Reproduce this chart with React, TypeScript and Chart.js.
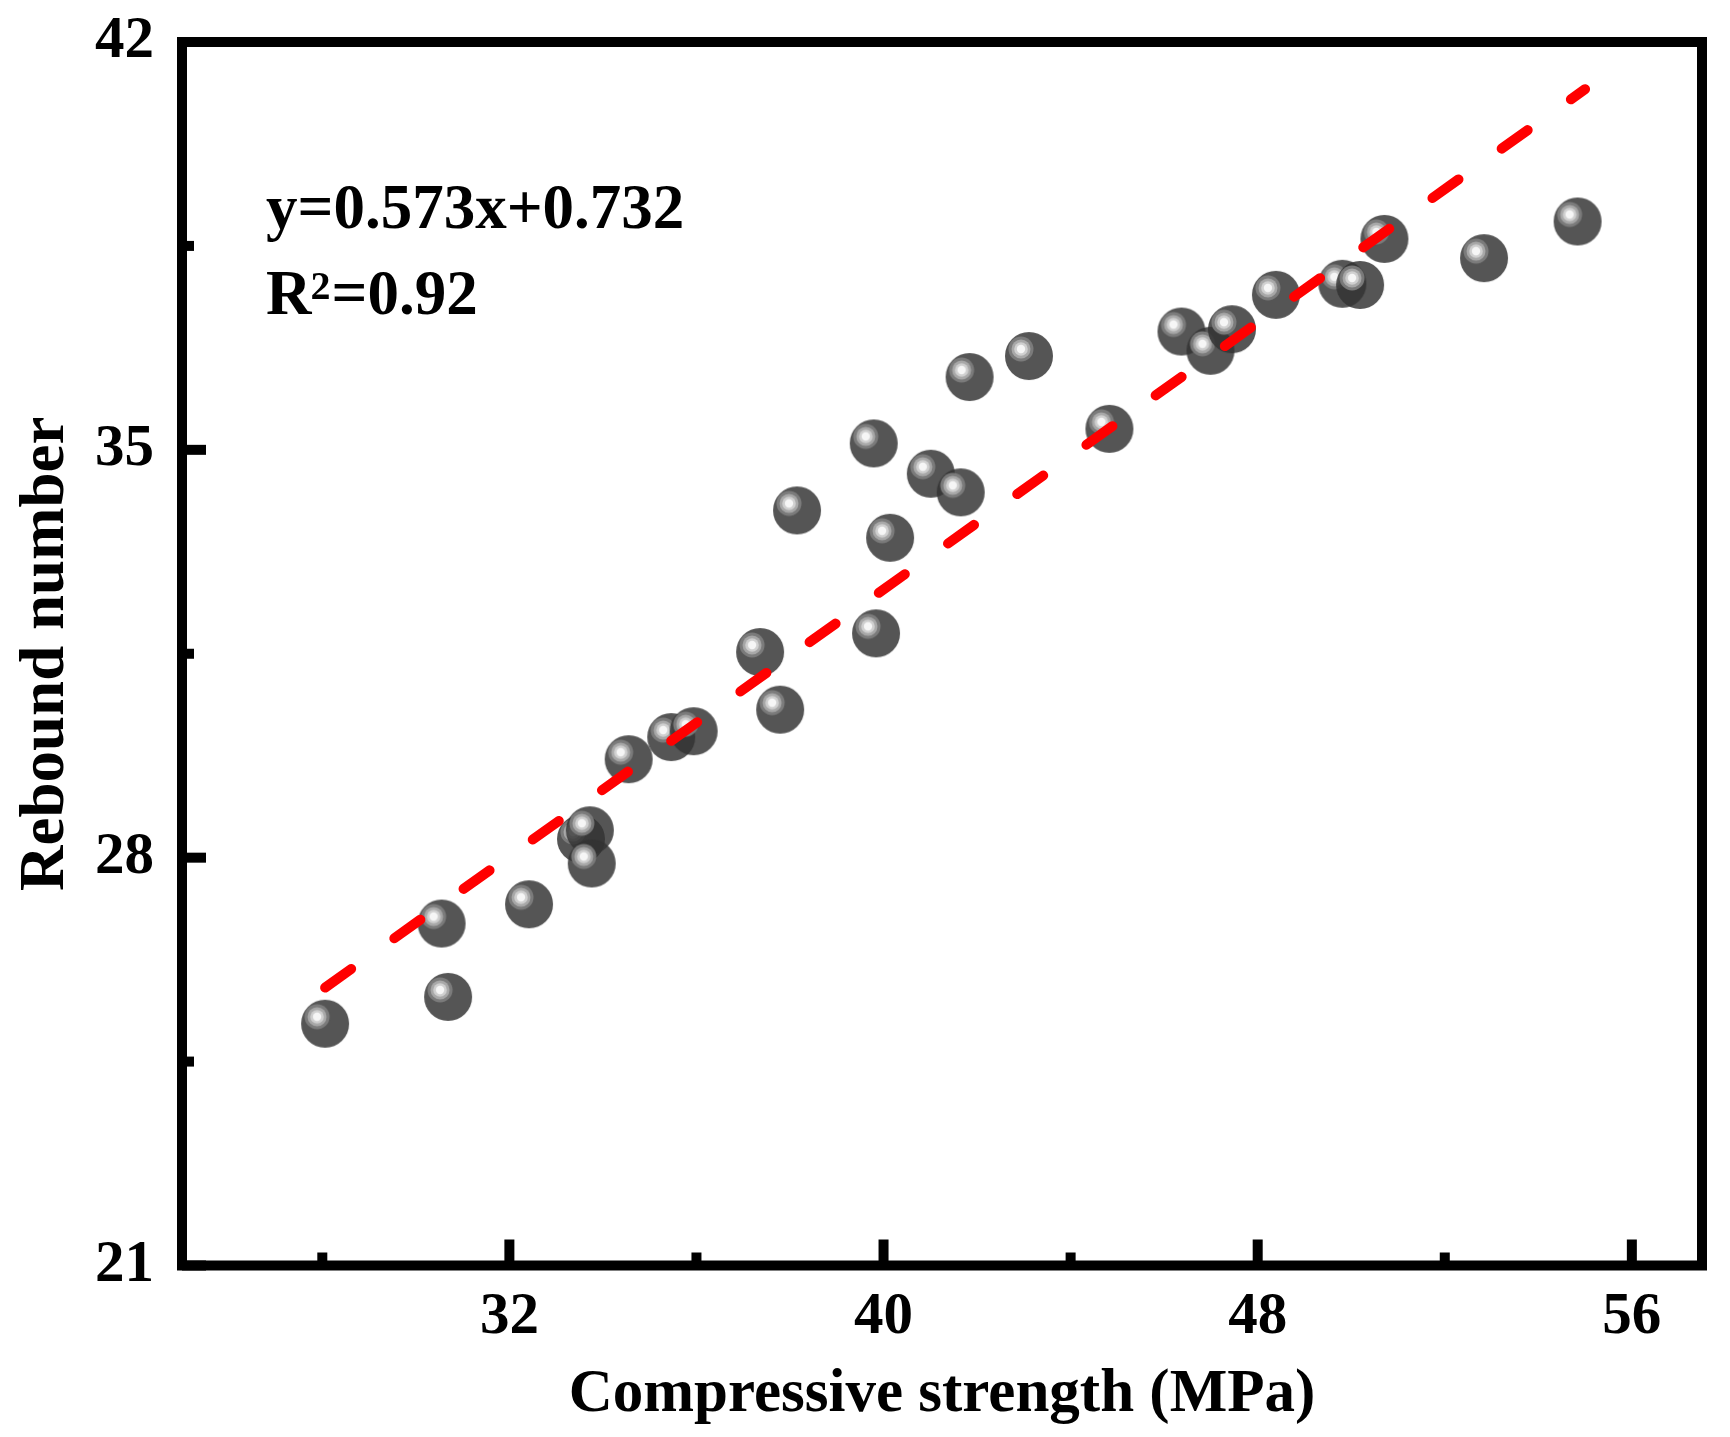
import React, { useEffect, useRef } from "react";
import { Chart, registerables } from "chart.js";

Chart.register(...registerables);

// ---- data ----
const strengthMPa = [
  28.06, 30.55, 30.69, 32.42, 33.53, 33.72, 33.76, 34.55, 35.46, 35.94,
  37.36, 37.79, 38.15, 39.84, 39.79, 40.14, 41.01, 41.65, 41.84, 43.11,
  44.83, 46.37, 46.99, 47.45, 48.39, 49.81, 50.19, 50.71, 52.84, 54.84,
];
const reboundNumber = [
  25.15, 26.87, 25.61, 27.2, 28.32, 28.47, 27.9, 29.69, 30.07, 30.17,
  31.53, 30.54, 33.96, 31.85, 35.11, 33.49, 34.59, 34.27, 36.25, 36.61,
  35.36, 37.03, 36.7, 37.07, 37.66, 37.85, 37.83, 38.62, 38.29, 38.92,
];
const fitLineX = [28.06, 55.0];
const fitLineY = [25.77, 41.19];

const xTickValues = [32, 40, 48, 56];
const xMinorTickValues = [28, 36, 44, 52];
const yTickValues = [21, 28, 35, 42];
const yMinorTickValues = [24.5, 31.5, 38.5];

const equationText = "y=0.573x+0.732";
const r2Base = "R";
const r2Sup = "2";
const r2Rest = "=0.92";

const xTitle = "Compressive strength (MPa)";
const yTitle = "Rebound number";

const FONT = "'Liberation Serif', 'Times New Roman', serif";

function makeBall(): HTMLCanvasElement {
  const c = document.createElement("canvas");
  c.width = 50;
  c.height = 50;
  const g = c.getContext("2d")!;
  g.fillStyle = "rgba(50,50,50,0.83)";
  g.beginPath();
  g.arc(25, 25, 24, 0, Math.PI * 2);
  g.fill();
  const rings: [number, string][] = [
    [12.5, "rgba(125,125,125,0.95)"],
    [9.5, "#a8a8a8"],
    [6.8, "#d0d0d0"],
    [4.2, "#f6f6f6"],
  ];
  for (const [r, col] of rings) {
    g.fillStyle = col;
    g.beginPath();
    g.arc(17, 18, r, 0, Math.PI * 2);
    g.fill();
  }
  return c;
}

const framePlugin = {
  id: "frameAndText",
  afterDraw(chart: any) {
    const { ctx, chartArea, scales } = chart;
    const { left, right, top, bottom } = chartArea;
    const xs = scales.x;
    const ys = scales.y;
    ctx.save();
    ctx.fillStyle = "#000";
    // ticks (inward)
    const tw = 10;
    for (const v of xTickValues) {
      const p = xs.getPixelForValue(v);
      ctx.fillRect(p - tw / 2, bottom - 26, tw, 26);
    }
    for (const v of xMinorTickValues) {
      const p = xs.getPixelForValue(v);
      ctx.fillRect(p - tw / 2, bottom - 13, tw, 13);
    }
    for (const v of yTickValues) {
      const p = ys.getPixelForValue(v);
      ctx.fillRect(left, p - tw / 2, 24, tw);
    }
    for (const v of yMinorTickValues) {
      const p = ys.getPixelForValue(v);
      ctx.fillRect(left, p - tw / 2, 12, tw);
    }
    // frame
    ctx.strokeStyle = "#000";
    ctx.lineWidth = 10;
    ctx.lineJoin = "miter";
    ctx.strokeRect(left, top, right - left, bottom - top);

    // annotation text
    ctx.fillStyle = "#000";
    ctx.textBaseline = "alphabetic";
    ctx.textAlign = "left";
    ctx.font = `bold 63px ${FONT}`;
    const tx = left + 84;
    ctx.fillText(equationText, tx, top + 186);
    ctx.fillText(r2Base, tx, top + 272);
    const rw = ctx.measureText(r2Base).width;
    ctx.font = `bold 40px ${FONT}`;
    ctx.fillText(r2Sup, tx + rw - 1, top + 257);
    const sw = ctx.measureText(r2Sup).width;
    ctx.font = `bold 63px ${FONT}`;
    ctx.fillText(r2Rest, tx + rw + sw, top + 272);
    ctx.restore();
  },
};

export default function App() {
  const ref = useRef<HTMLCanvasElement>(null);

  useEffect(() => {
    document.body.style.margin = "0";
    const ball = makeBall();
    const points = strengthMPa.map((x, i) => ({ x, y: reboundNumber[i] }));
    const fit = fitLineX.map((x, i) => ({ x, y: fitLineY[i] }));

    const chart = new Chart(ref.current!, {
      type: "scatter",
      data: {
        datasets: [
          {
            label: "fit",
            data: fit,
            showLine: true,
            borderColor: "#ff0000",
            borderWidth: 10,
            borderDash: [32, 53],
            borderCapStyle: "round",
            pointRadius: 0,
            fill: false,
            order: 0,
          } as any,
          {
            label: "data",
            data: points,
            pointStyle: ball as any,
            pointRadius: 24,
            order: 1,
          },
        ],
      },
      options: {
        animation: false,
        responsive: false,
        devicePixelRatio: 1,
        layout: { padding: { top: 42, right: 28, left: 0, bottom: 0 } },
        plugins: { legend: { display: false }, tooltip: { enabled: false } },
        scales: {
          x: {
            type: "linear",
            min: 25,
            max: 57.5,
            grid: { display: false, drawTicks: false },
            border: { display: false },
            afterBuildTicks: (s: any) => {
              s.ticks = xTickValues.map((v) => ({ value: v }));
            },
            afterFit: (s: any) => {
              s.height = 171.5;
              s.paddingLeft = 0;
              s.paddingRight = 0;
              s.paddingTop = 0;
              s.paddingBottom = 0;
            },
            ticks: {
              color: "#000",
              padding: 17,
              maxRotation: 0,
              autoSkip: false,
              font: { family: FONT, size: 59, weight: "bold" },
            },
            title: {
              display: true,
              text: xTitle,
              color: "#000",
              padding: { top: 0, bottom: 5 },
              font: { family: FONT, size: 61, weight: "bold" },
            },
          },
          y: {
            type: "linear",
            min: 21,
            max: 42,
            grid: { display: false, drawTicks: false },
            border: { display: false },
            afterBuildTicks: (s: any) => {
              s.ticks = yTickValues.map((v) => ({ value: v }));
            },
            afterFit: (s: any) => {
              s.width = 182;
              s.paddingLeft = 0;
              s.paddingRight = 0;
              s.paddingTop = 0;
              s.paddingBottom = 0;
            },
            ticks: {
              color: "#000",
              padding: 28,
              autoSkip: false,
              font: { family: FONT, size: 59, weight: "bold" },
            },
            title: {
              display: true,
              text: yTitle,
              color: "#000",
              padding: { top: 9, bottom: 0 },
              font: { family: FONT, size: 63, weight: "bold" },
            },
          },
        },
      },
      plugins: [framePlugin],
    });
    return () => chart.destroy();
  }, []);

  return (
    <div style={{ width: 1730, height: 1437 }}>
      <canvas
        ref={ref}
        width={1730}
        height={1437}
        style={{ display: "block", width: 1730, height: 1437 }}
      />
    </div>
  );
}
